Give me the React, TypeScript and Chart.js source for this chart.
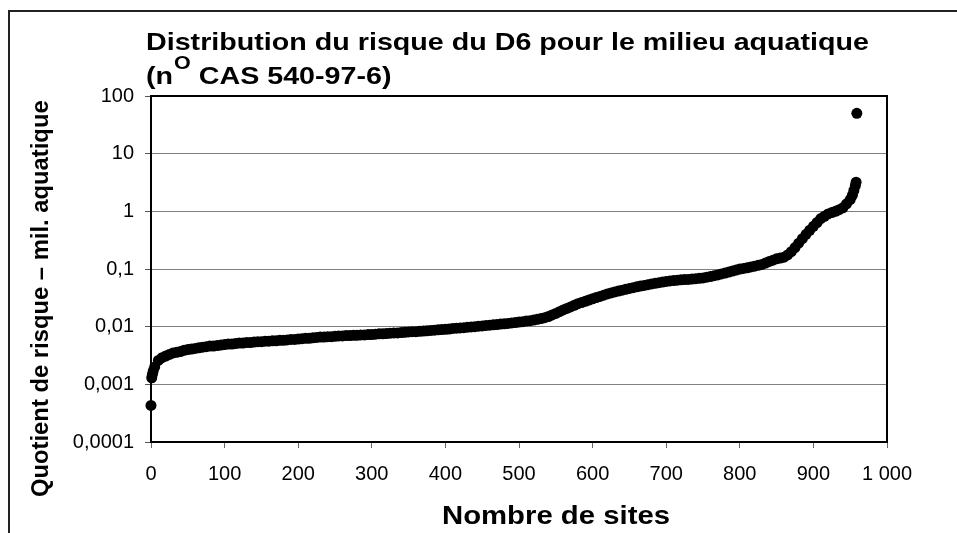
import React, { useEffect, useRef } from 'react';
import { Chart, registerables } from 'chart.js';

Chart.register(...registerables);

const TITLE_LINE_1 = 'Distribution du risque du D6 pour le milieu aquatique';
const TITLE_LINE_2_PRE = '(n';
const TITLE_SUP = 'O';
const TITLE_LINE_2_POST = ' CAS 540-97-6)';
const X_TITLE = 'Nombre de sites';
const Y_TITLE = 'Quotient de risque \u2013 mil. aquatique';

const Y_TICKS = [0.0001, 0.001, 0.01, 0.1, 1, 10, 100];
const Y_TICK_LABELS = ['0,0001', '0,001', '0,01', '0,1', '1', '10', '100'];
const X_TICKS = [0, 100, 200, 300, 400, 500, 600, 700, 800, 900, 1000];
const X_TICK_LABELS = ['0', '100', '200', '300', '400', '500', '600', '700', '800', '900', '1 000'];

// rank of the site (sorted by risk quotient)
const sites = [
  0, 1, 2, 3, 5, 10, 15, 20, 25, 30, 35, 40, 45, 50, 55, 60, 65, 70, 75, 80, 85, 90, 95,
  100, 105, 110, 115, 120, 125, 130, 135, 140, 145, 150, 155, 160, 165, 170, 175, 180, 185, 190, 195,
  200, 205, 210, 215, 220, 225, 230, 235, 240, 245, 250, 255, 260, 265, 270, 275, 280, 285, 290, 295,
  300, 305, 310, 315, 320, 325, 330, 335, 340, 345, 350, 355, 360, 365, 370, 375, 380, 385, 390, 395,
  400, 405, 410, 415, 420, 425, 430, 435, 440, 445, 450, 455, 460, 465, 470, 475, 480, 485, 490, 495,
  500, 505, 510, 515, 520, 525, 530, 535, 540, 545, 550, 555, 560, 565, 570, 575, 580, 585, 590, 595,
  600, 605, 610, 615, 620, 625, 630, 635, 640, 645, 650, 655, 660, 665, 670, 675, 680, 685, 690, 695,
  700, 705, 710, 715, 720, 725, 730, 735, 740, 745, 750, 755, 760, 765, 770, 775, 780, 785, 790, 795,
  800, 805, 810, 815, 820, 825, 830, 835, 840, 845, 850, 855, 860, 865, 870, 875, 880, 885, 890, 895,
  900, 905, 910, 915, 920, 925, 930, 935, 940, 945, 950, 953, 955, 957, 958, 959,
];

// risk quotient for the aquatic environment at each rank
const quotients = [
  0.00043, 0.0013, 0.0015, 0.0017, 0.002, 0.0026, 0.0029, 0.0031, 0.0033, 0.0035, 0.0036, 0.0037, 0.0039, 0.004, 0.0041, 0.0042, 0.0043, 0.0044, 0.0045, 0.0046, 0.0046, 0.0047, 0.0048,
  0.0049, 0.005, 0.005, 0.0051, 0.0052, 0.0052, 0.0053, 0.0053, 0.0054, 0.0055, 0.0055, 0.0056, 0.0056, 0.0057, 0.0057, 0.0058, 0.0058, 0.0059, 0.006, 0.006,
  0.0061, 0.0062, 0.0063, 0.0063, 0.0064, 0.0065, 0.0066, 0.0066, 0.0067, 0.0067, 0.0068, 0.0069, 0.0069, 0.007, 0.007, 0.0071, 0.0071, 0.0072, 0.0072, 0.0073,
  0.0073, 0.0074, 0.0075, 0.0075, 0.0076, 0.0077, 0.0078, 0.0078, 0.0079, 0.008, 0.0081, 0.0082, 0.0082, 0.0083, 0.0084, 0.0085, 0.0086, 0.0087, 0.0088, 0.0089,
  0.009, 0.0091, 0.0093, 0.0094, 0.0095, 0.0096, 0.0098, 0.0099, 0.01, 0.0102, 0.0103, 0.0105, 0.0106, 0.0108, 0.0109, 0.0111, 0.0112, 0.0114, 0.0116, 0.0118,
  0.012, 0.0122, 0.0125, 0.0127, 0.013, 0.0134, 0.0138, 0.0143, 0.015, 0.016, 0.017, 0.0182, 0.0195, 0.0207, 0.022, 0.0235, 0.025, 0.0262, 0.0275, 0.029,
  0.0305, 0.032, 0.0335, 0.0352, 0.037, 0.0385, 0.04, 0.0415, 0.043, 0.0445, 0.046, 0.0475, 0.049, 0.0505, 0.052, 0.0535, 0.055, 0.0565, 0.058, 0.0595,
  0.061, 0.062, 0.063, 0.064, 0.065, 0.0655, 0.066, 0.067, 0.068, 0.069, 0.07, 0.072, 0.074, 0.0765, 0.079, 0.082, 0.085, 0.0885, 0.092, 0.096,
  0.1, 0.1025, 0.105, 0.1085, 0.112, 0.116, 0.12, 0.127, 0.135, 0.142, 0.15, 0.155, 0.16, 0.175, 0.2, 0.235, 0.28, 0.335, 0.4, 0.47,
  0.55, 0.64, 0.75, 0.82, 0.9, 0.95, 1.0, 1.07, 1.15, 1.35, 1.6, 1.9, 2.3, 2.8, 3.2, 50,
];

const FONT = '"Liberation Sans", Arial, Helvetica, sans-serif';

function drawStretched(ctx: CanvasRenderingContext2D, text: string, x: number, y: number, sx: number) {
  ctx.save();
  ctx.translate(x, y);
  ctx.scale(sx, 1);
  ctx.fillText(text, 0, 0);
  ctx.restore();
}

const decorPlugin = {
  id: 'decor',
  beforeDraw(chart: any) {
    const { ctx, width, height } = chart;
    ctx.save();
    ctx.fillStyle = '#ffffff';
    ctx.fillRect(0, 0, width, height);
    ctx.strokeStyle = '#222222';
    ctx.lineWidth = 2;
    ctx.beginPath();
    ctx.moveTo(9, height);
    ctx.lineTo(9, 11);
    ctx.lineTo(width, 11);
    ctx.stroke();
    ctx.restore();
  },
  beforeDatasetsDraw(chart: any) {
    const { ctx, chartArea: a } = chart;
    ctx.save();
    ctx.strokeStyle = '#000000';
    ctx.lineWidth = 2;
    ctx.strokeRect(a.left, a.top, a.right - a.left, a.bottom - a.top);
    ctx.restore();
  },
  afterDraw(chart: any) {
    const { ctx } = chart;
    ctx.save();
    ctx.fillStyle = '#000000';
    ctx.textAlign = 'left';
    ctx.textBaseline = 'alphabetic';

    // main title, two lines
    ctx.font = 'bold 24px ' + FONT;
    const w1 = ctx.measureText(TITLE_LINE_1).width;
    const sx = 723 / w1;
    drawStretched(ctx, TITLE_LINE_1, 146, 49.5, sx);

    let x = 146;
    ctx.font = 'bold 24px ' + FONT;
    drawStretched(ctx, TITLE_LINE_2_PRE, x, 83.5, sx);
    x += ctx.measureText(TITLE_LINE_2_PRE).width * sx;
    ctx.font = 'bold 18px ' + FONT;
    drawStretched(ctx, TITLE_SUP, x + 1, 69, sx);
    x += ctx.measureText(TITLE_SUP).width * sx + 1;
    ctx.font = 'bold 24px ' + FONT;
    drawStretched(ctx, TITLE_LINE_2_POST, x, 83.5, sx);

    // x axis title
    ctx.font = 'bold 25px ' + FONT;
    const wx = ctx.measureText(X_TITLE).width;
    drawStretched(ctx, X_TITLE, 442, 523.5, 228 / wx);

    // y axis title (rotated)
    ctx.font = 'bold 23.8px ' + FONT;
    ctx.translate(47.5, 497);
    ctx.rotate(-Math.PI / 2);
    ctx.fillText(Y_TITLE, 0, 0);
    ctx.restore();
  },
};

export default function App() {
  const canvasRef = useRef<HTMLCanvasElement | null>(null);

  useEffect(() => {
    const canvas = canvasRef.current;
    if (!canvas) return;
    const chart = new Chart(canvas, {
      type: 'scatter',
      data: {
        datasets: [
          {
            label: 'QR',
            data: sites.map((s, i) => ({ x: s, y: quotients[i] })),
            backgroundColor: '#000000',
            borderColor: '#000000',
            borderWidth: 0,
            pointRadius: 5.5,
            pointHoverRadius: 5.5,
            clip: false as any,
          },
        ],
      },
      plugins: [decorPlugin],
      options: {
        animation: false,
        responsive: false,
        events: [],
        layout: { padding: { left: 0, top: 96, right: 70, bottom: 0 } },
        plugins: {
          legend: { display: false },
          tooltip: { enabled: false },
          title: { display: false },
        },
        scales: {
          x: {
            type: 'linear',
            min: 0,
            max: 1000,
            afterBuildTicks: (scale: any) => {
              scale.ticks = X_TICKS.map((v) => ({ value: v }));
            },
            afterFit: (scale: any) => {
              scale.height = 91;
            },
            border: { display: false },
            grid: {
              drawOnChartArea: false,
              drawTicks: true,
              tickLength: 6,
              tickColor: '#666666',
              lineWidth: 1,
            },
            ticks: {
              autoSkip: false,
              maxRotation: 0,
              minRotation: 0,
              padding: 14,
              color: '#000000',
              font: { family: FONT, size: 20 },
              callback: (v: any) => {
                const i = X_TICKS.indexOf(Number(v));
                return i >= 0 ? X_TICK_LABELS[i] : '';
              },
            },
          },
          y: {
            type: 'logarithmic',
            min: 0.0001,
            max: 100,
            afterBuildTicks: (scale: any) => {
              scale.ticks = Y_TICKS.map((v) => ({ value: v }));
            },
            afterFit: (scale: any) => {
              scale.width = 151;
            },
            border: { display: false },
            grid: {
              drawOnChartArea: true,
              drawTicks: true,
              tickLength: 6,
              color: '#808080',
              tickColor: '#555555',
              lineWidth: 1,
            },
            ticks: {
              autoSkip: false,
              padding: 11,
              color: '#000000',
              font: { family: FONT, size: 20 },
              callback: (v: any) => {
                const i = Y_TICKS.indexOf(Number(v));
                return i >= 0 ? Y_TICK_LABELS[i] : '';
              },
            },
          },
        },
      },
    });
    return () => chart.destroy();
  }, []);

  return (
    <div style={{ position: 'fixed', left: 0, top: 0, width: 957, height: 533, background: '#fff' }}>
      <canvas ref={canvasRef} width={957} height={533} style={{ width: 957, height: 533, display: 'block' }} />
    </div>
  );
}
